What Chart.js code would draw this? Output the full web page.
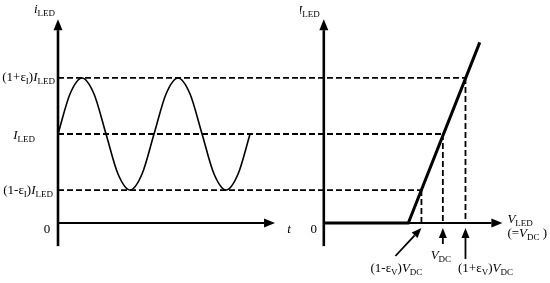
<!DOCTYPE html>
<html>
<head>
<meta charset="utf-8">
<script src="https://cdn.jsdelivr.net/npm/chart.js@4/dist/chart.umd.min.js"></script>
<style>
body { margin: 0; background: #fff; }
#wrap { position: relative; width: 550px; height: 283px; }
#left { position: absolute; left: 0; top: 0; }
#right { position: absolute; left: 300px; top: 0; }
</style>
</head>
<body>
<div id="wrap">
  <canvas id="left" width="300" height="283"></canvas>
  <canvas id="right" width="250" height="283"></canvas>
</div>
<script>
// ripple current, every 1/8 period
var sineT = [0, 0.125, 0.25, 0.375, 0.5, 0.625, 0.75, 0.875, 1, 1.125, 1.25, 1.375, 1.5, 1.625, 1.75, 1.875, 2];
var sineI = [1, 1.45, 1.63, 1.45, 1, 0.55, 0.37, 0.55, 1, 1.45, 1.63, 1.45, 1, 0.55, 0.37, 0.55, 1];

// current levels (in units of I_LED), low to high, and their labels
var levels = [0.37, 1, 1.63];
var levelLabels = ['(1-ε_I)*I*_LED', '*I*_LED', '(1+ε_I)*I*_LED'];

// LED I-V characteristic (V in units of V_DC)
var ivV = [0, 0.71, 1.31];
var ivI = [0, 0, 2.03];

// voltages where each level meets the I-V line
var vMarks = [0.82, 1, 1.19];
var vLabels = ['(1-ε_V)*V*_DC', '*V*_DC', '(1+ε_V)*V*_DC'];

var FONT = '"Liberation Serif", "Times New Roman", serif';

// tiny markup: *x* italic, _ABC subscript
function parse(s) {
    var segs = [], it = false, i = 0;
    while (i < s.length) {
        var c = s[i];
        if (c === '*') { it = !it; i++; continue; }
        if (c === '_') {
            var j = i + 1;
            while (j < s.length && /[A-Za-z]/.test(s[j])) j++;
            segs.push({ t: s.slice(i + 1, j), sub: true });
            i = j;
            continue;
        }
        var k = i;
        while (k < s.length && s[k] !== '*' && s[k] !== '_') k++;
        segs.push({ t: s.slice(i, k), it: it });
        i = k;
    }
    return segs;
}

function fontOf(g) {
    if (g.sub) return '9px ' + FONT;
    return (g.it ? 'italic ' : '') + '13px ' + FONT;
}

function label(ctx, s, x, y, align) {
    var segs = parse(s);
    var w = 0;
    segs.forEach(function (g) {
        ctx.font = fontOf(g);
        g.w = ctx.measureText(g.t).width;
        w += g.w;
    });
    var x0 = align === 'right' ? x - w : (align === 'center' ? x - w / 2 : x);
    ctx.save();
    ctx.fillStyle = '#000';
    ctx.textAlign = 'left';
    ctx.textBaseline = 'middle';
    segs.forEach(function (g) {
        ctx.font = fontOf(g);
        ctx.fillText(g.t, x0, g.sub ? y + 4 : y);
        x0 += g.w;
    });
    ctx.restore();
}

function arrow(ctx, x1, y1, x2, y2, lw, head, half) {
    var a = Math.atan2(y2 - y1, x2 - x1);
    var bx = x2 - head * Math.cos(a), by = y2 - head * Math.sin(a);
    ctx.save();
    ctx.strokeStyle = '#000';
    ctx.fillStyle = '#000';
    ctx.lineWidth = lw;
    ctx.beginPath();
    ctx.moveTo(x1, y1);
    ctx.lineTo(bx, by);
    ctx.stroke();
    ctx.beginPath();
    ctx.moveTo(x2, y2);
    ctx.lineTo(bx + half * Math.sin(a), by - half * Math.cos(a));
    ctx.lineTo(bx - half * Math.sin(a), by + half * Math.cos(a));
    ctx.closePath();
    ctx.fill();
    ctx.restore();
}

function dashed(data) {
    return {
        data: data, showLine: true, borderColor: '#000', borderWidth: 1.8,
        borderDash: [6, 3], pointRadius: 0, clip: false
    };
}

function baseOptions(xmin, xmax, padL) {
    return {
        responsive: false,
        animation: false,
        events: [],
        layout: { padding: { left: padL, right: 0, top: 0.5, bottom: 15.5 } },
        plugins: { legend: { display: false }, tooltip: { enabled: false } },
        scales: {
            x: { type: 'linear', display: false, min: xmin, max: xmax },
            y: { type: 'linear', display: false, min: -0.5, max: 2.5 }
        }
    };
}

// left: ripple current vs time
var leftSets = [{
    data: sineT.map(function (t, i) { return { x: t, y: sineI[i] }; }),
    showLine: true, borderColor: '#000', borderWidth: 1.6, pointRadius: 0,
    cubicInterpolationMode: 'monotone', clip: false
}];
levels.forEach(function (lv) {
    leftSets.push(dashed([{ x: 0, y: lv }, { x: 2.52, y: lv }]));
});

var leftAxes = {
    id: 'leftAxes',
    afterDraw: function (chart) {
        var ctx = chart.ctx, xs = chart.scales.x, ys = chart.scales.y;
        var x0 = xs.getPixelForValue(0), y0 = ys.getPixelForValue(0);
        arrow(ctx, x0, ys.getPixelForValue(-0.26), x0, ys.getPixelForValue(2.29), 2.6, 11, 4.5);
        arrow(ctx, x0, y0, xs.getPixelForValue(2.26), y0, 2, 11, 4.5);
        label(ctx, '*i*_LED', x0 - 3, 10, 'right');
        label(ctx, levelLabels[2], x0 - 3, ys.getPixelForValue(levels[2]), 'right');
        label(ctx, levelLabels[1], x0 - 23, ys.getPixelForValue(levels[1]) + 2, 'right');
        label(ctx, levelLabels[0], x0 - 5, ys.getPixelForValue(levels[0]) + 1, 'right');
        label(ctx, '0', x0 - 11, y0 + 7, 'center');
        label(ctx, '*t*', xs.getPixelForValue(2.26) + 14, y0 + 7, 'center');
    }
};

new Chart(document.getElementById('left'), {
    type: 'scatter',
    data: { datasets: leftSets },
    options: baseOptions(0, 2.52, 58),
    plugins: [leftAxes]
});

// right: LED current vs voltage
var rightSets = [{
    data: ivV.map(function (v, i) { return { x: v, y: ivI[i] }; }),
    showLine: true, borderColor: '#000', borderWidth: 3, pointRadius: 0, clip: false
}];
levels.forEach(function (lv, i) {
    rightSets.push(dashed([{ x: -0.2, y: lv }, { x: vMarks[i], y: lv }]));
    rightSets.push(dashed([{ x: vMarks[i], y: lv }, { x: vMarks[i], y: 0 }]));
});

var rightAxes = {
    id: 'rightAxes',
    beforeDatasetsDraw: function (chart) {
        var ctx = chart.ctx, xs = chart.scales.x, ys = chart.scales.y;
        var x0 = xs.getPixelForValue(0), y0 = ys.getPixelForValue(0);
        arrow(ctx, x0, ys.getPixelForValue(-0.26), x0, ys.getPixelForValue(2.29), 2.6, 11, 4.5);
        arrow(ctx, x0, y0, xs.getPixelForValue(1.5), y0, 2, 11, 4.5);
    },
    afterDraw: function (chart) {
        var ctx = chart.ctx, xs = chart.scales.x, ys = chart.scales.y;
        var x0 = xs.getPixelForValue(0), y0 = ys.getPixelForValue(0);
        var xe = xs.getPixelForValue(1.5);
        label(ctx, '*I*_LED', x0 - 4, 11, 'right');
        label(ctx, '0', x0 - 10, y0 + 7, 'center');
        label(ctx, '*V*_LED', xe + 5, y0 - 3, 'left');
        label(ctx, '(=*V*_DC )', xe + 5, y0 + 11, 'left');

        var p0 = xs.getPixelForValue(vMarks[0]);
        var p1 = xs.getPixelForValue(vMarks[1]);
        var p2 = xs.getPixelForValue(vMarks[2]);
        arrow(ctx, p0 - 26, y0 + 33, p0, y0 + 5, 1.8, 10, 4);
        arrow(ctx, p1, y0 + 21, p1, y0 + 5, 1.8, 10, 4);
        arrow(ctx, p2, y0 + 36, p2, y0 + 5, 1.8, 10, 4);
        label(ctx, vLabels[0], p0 - 25, y0 + 46, 'center');
        label(ctx, vLabels[1], p1 - 2, y0 + 33, 'center');
        label(ctx, vLabels[2], p2 + 20, y0 + 46, 'center');
    }
};

new Chart(document.getElementById('right'), {
    type: 'scatter',
    data: { datasets: rightSets },
    options: baseOptions(-0.2, 1.9, 0),
    plugins: [rightAxes]
});
</script>
</body>
</html>
